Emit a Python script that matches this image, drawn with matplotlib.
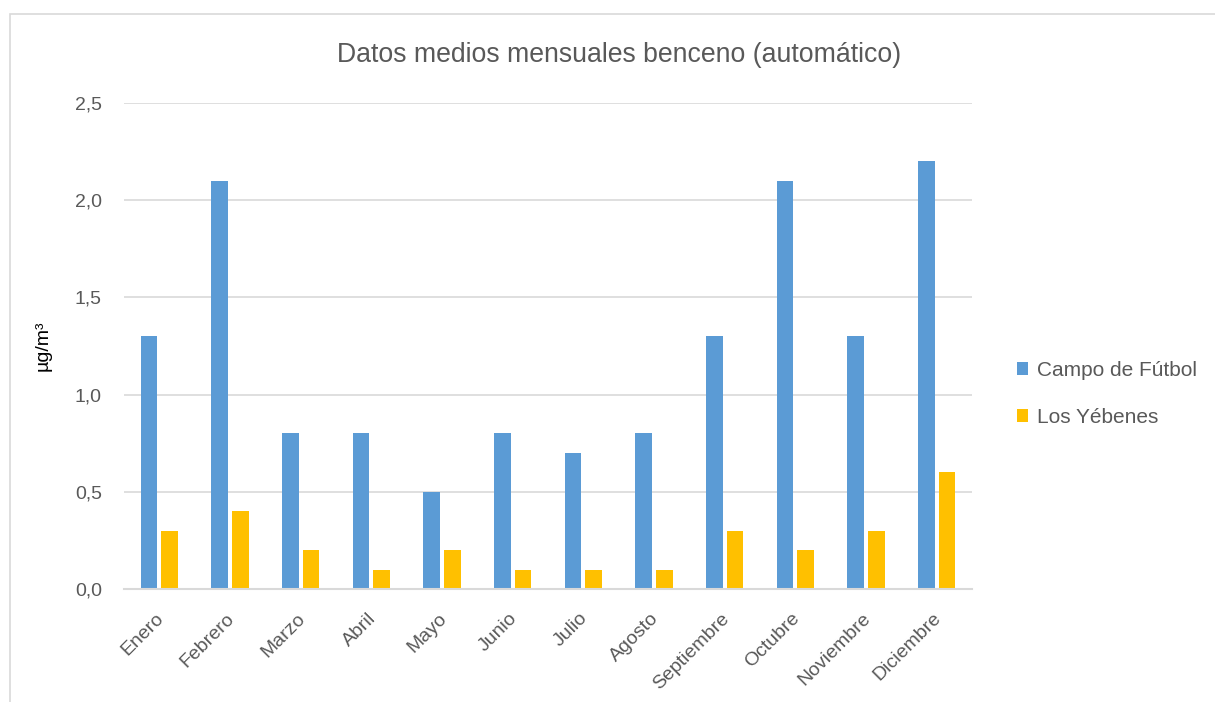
import numpy as np
import matplotlib
matplotlib.use('Agg')
import matplotlib.pyplot as plt
import matplotlib.transforms as mtransforms
from matplotlib.patches import Rectangle
from matplotlib.ticker import FuncFormatter

# datos
meses = ['Enero', 'Febrero', 'Marzo', 'Abril', 'Mayo', 'Junio', 'Julio',
         'Agosto', 'Septiembre', 'Octubre', 'Noviembre', 'Diciembre']
campo_futbol = [1.3, 2.1, 0.8, 0.8, 0.5, 0.8, 0.7, 0.8, 1.3, 2.1, 1.3, 2.2]
los_yebenes = [0.3, 0.4, 0.2, 0.1, 0.2, 0.1, 0.1, 0.1, 0.3, 0.2, 0.3, 0.6]

AZUL = '#5B9BD5'
AMARILLO = '#FFC000'
GRIS_TEXTO = '#595959'
GRIS_LINEA = '#D9D9D9'

plt.rcParams['font.family'] = ['Liberation Sans', 'DejaVu Sans']

W, H = 1215, 702
fig = plt.figure(figsize=(W / 100, H / 100), dpi=100)
ax = fig.add_axes([124 / W, 113 / H, (972 - 124) / W, (589 - 103) / H])

x = np.arange(len(meses))
ancho = 0.235
ax.bar(x - 0.145, campo_futbol, ancho, color=AZUL, label='Campo de Fútbol', zorder=3)
ax.bar(x + 0.145, los_yebenes, ancho, color=AMARILLO, label='Los Yébenes', zorder=3)

ax.set_xlim(-0.5, len(meses) - 0.5)
ax.set_ylim(0, 2.5)
ax.set_yticks(np.arange(0, 2.51, 0.5))
ax.yaxis.set_major_formatter(FuncFormatter(lambda v, p: f'{v:.1f}'.replace('.', ',')))
ax.grid(axis='y', color=GRIS_LINEA, linewidth=1.2, zorder=0)
for s in ['top', 'right', 'left']:
    ax.spines[s].set_visible(False)
ax.spines['bottom'].set_color(GRIS_LINEA)
ax.spines['bottom'].set_linewidth(1.5)
ax.spines['bottom'].set_zorder(4)

ax.set_xticks(x)
ax.set_xticklabels(meses, rotation=45, ha='right', rotation_mode='anchor')
ax.tick_params(axis='both', length=0, labelsize=14, labelcolor=GRIS_TEXTO)
ax.tick_params(axis='y', pad=16)
ax.tick_params(axis='x', pad=15)
# desplazar un poco las etiquetas del eje x a la izquierda
desplazamiento = mtransforms.ScaledTranslation(-4 / 100, 0, fig.dpi_scale_trans)
for lab in ax.get_xticklabels():
    lab.set_transform(lab.get_transform() + desplazamiento)

ax.set_ylabel('µg/m³', fontsize=14, color='black', labelpad=17)

fig.text(619 / W, 1 - 55 / H, 'Datos medios mensuales benceno (automático)',
         ha='center', va='center', fontsize=19.2, color=GRIS_TEXTO)

leg = fig.legend(loc='center left', bbox_to_anchor=(998 / W, 1 - 394 / H),
                 frameon=False, fontsize=15, labelcolor=GRIS_TEXTO,
                 handlelength=0.55, handleheight=0.55, handletextpad=0.4,
                 labelspacing=1.35)

# borde del área del gráfico
fig.patches.append(Rectangle((10 / W, -0.1), 1.2, 1 - 14 / H + 0.1,
                             transform=fig.transFigure, fill=False,
                             edgecolor=GRIS_LINEA, linewidth=1.2))

fig.savefig('out.png', dpi=100)
